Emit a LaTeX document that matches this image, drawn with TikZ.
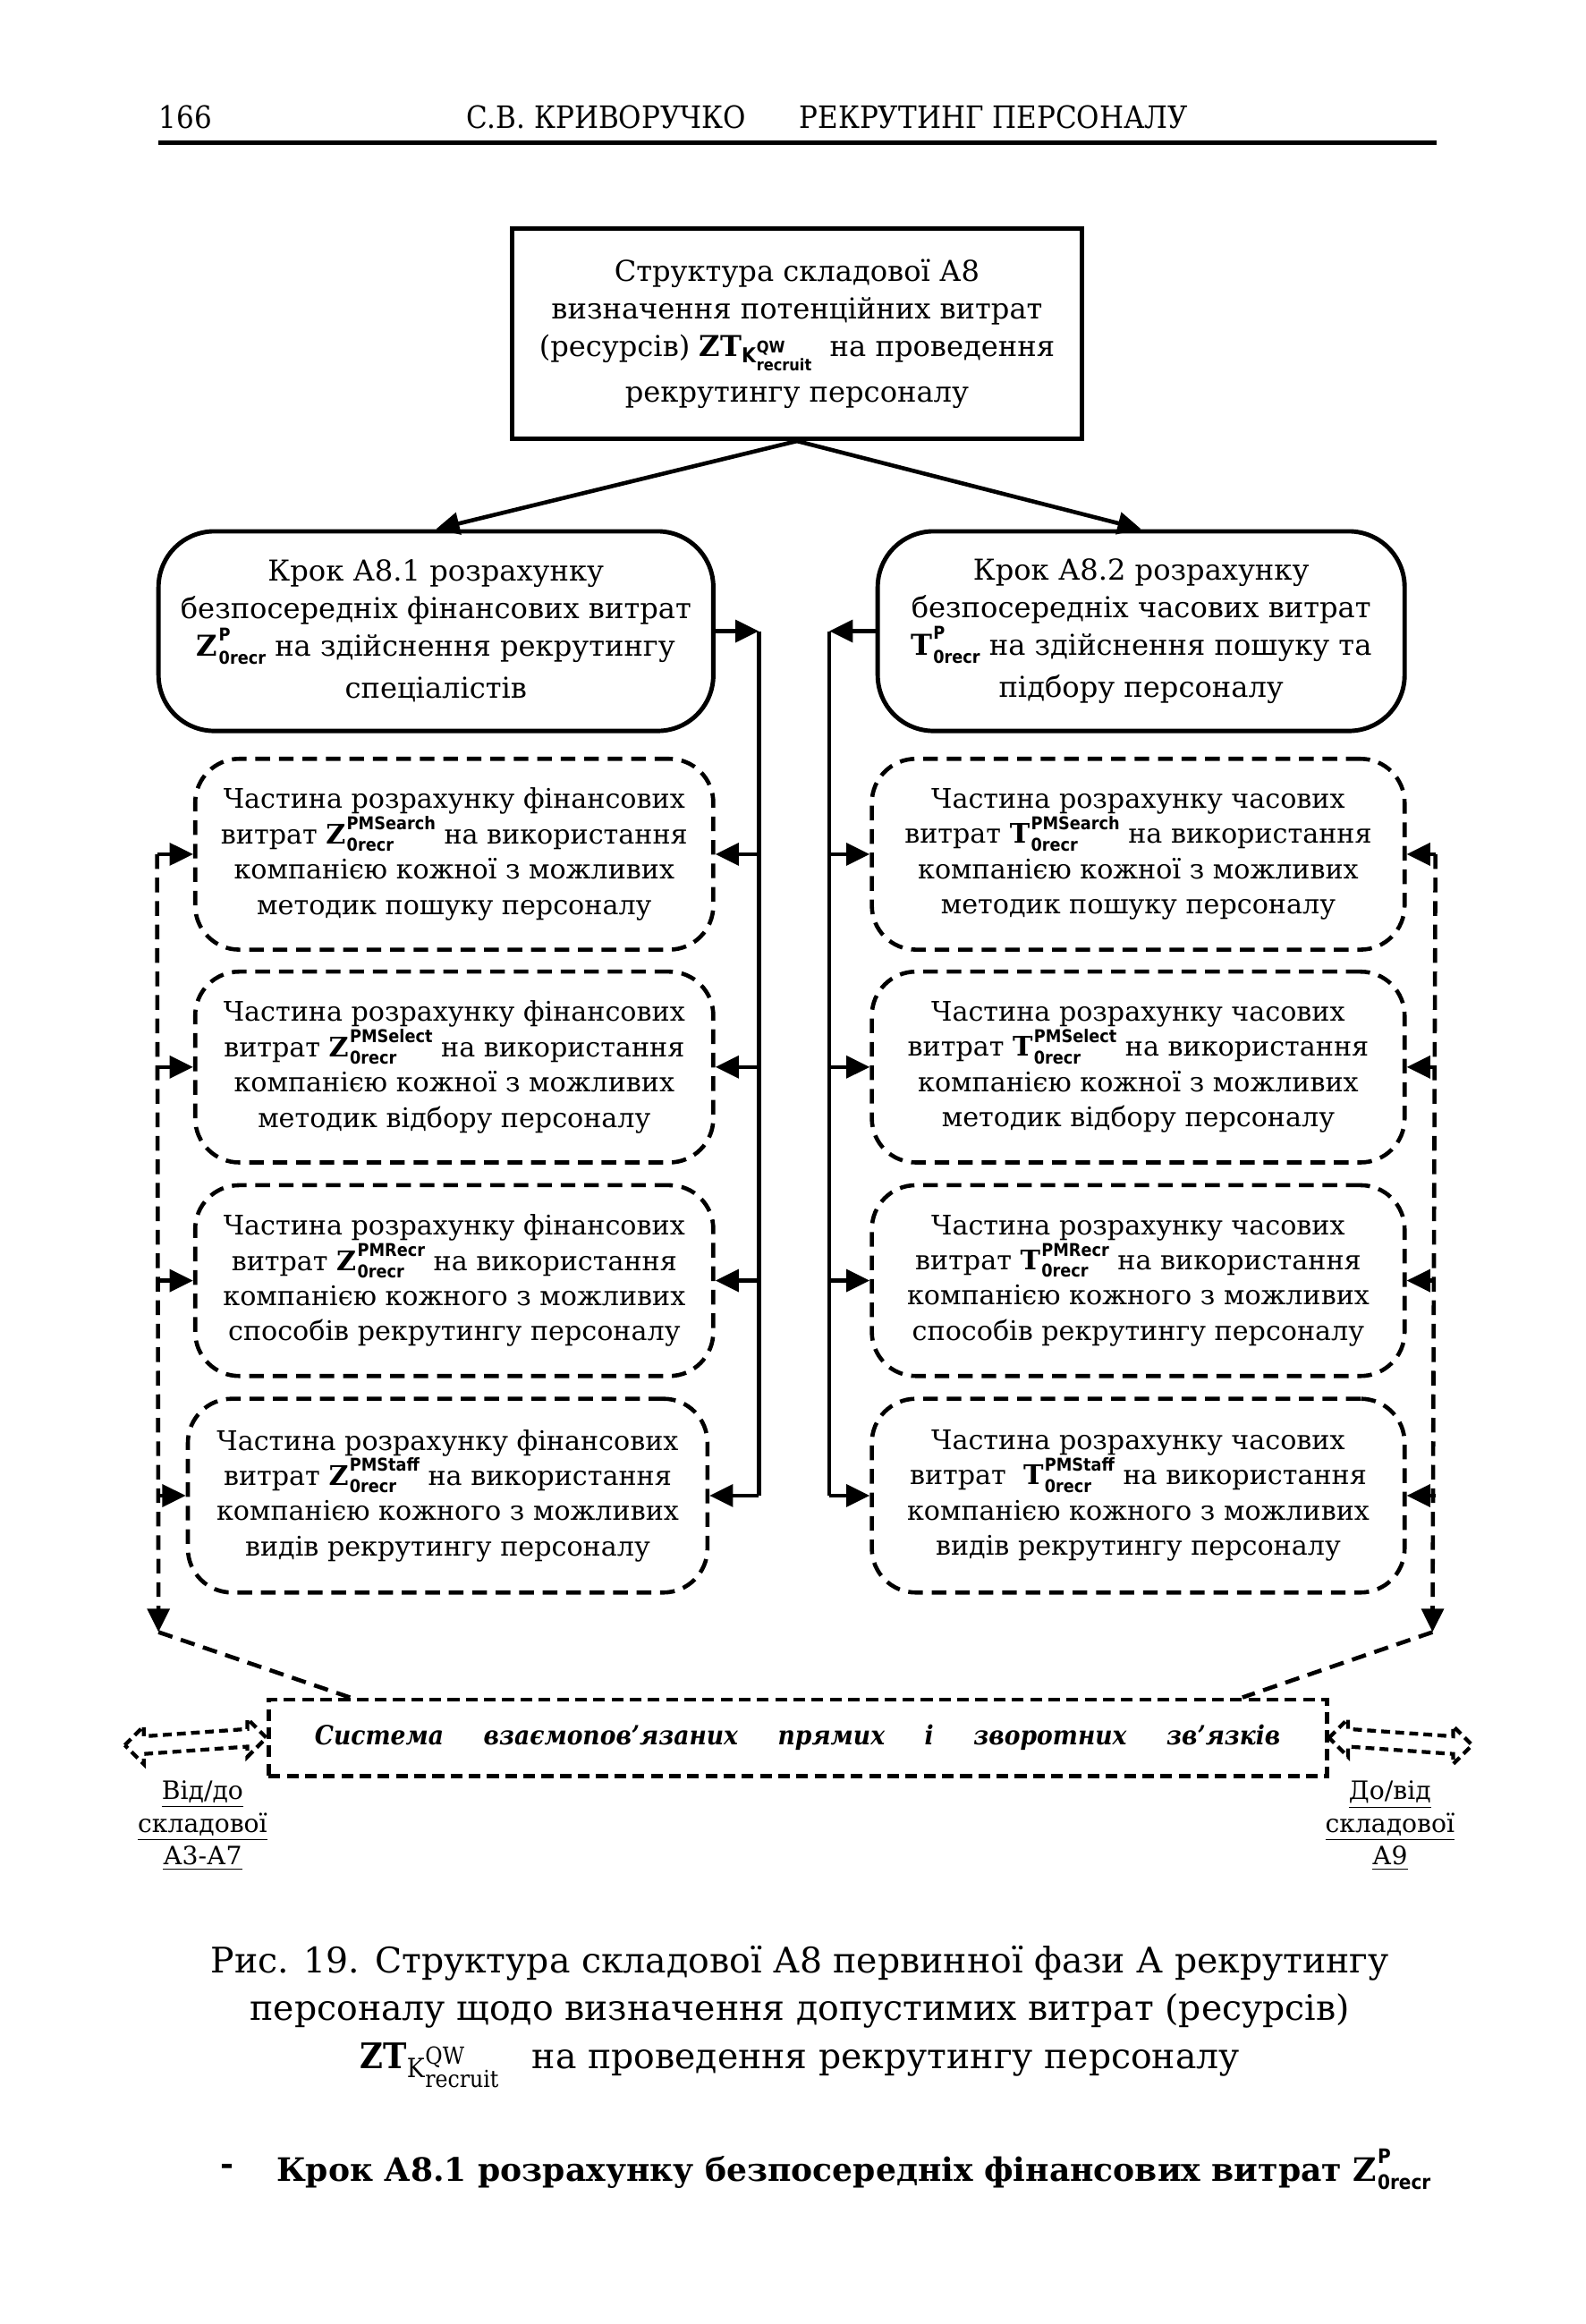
\documentclass[tikz,border=0pt]{standalone}
\usepackage{fontspec}
\setmainfont{DejaVu Serif}
\newfontfamily\condsans{DejaVu Sans Condensed}[BoldFont={DejaVu Sans Condensed Bold}]
\newfontfamily\condserif{DejaVu Serif Condensed}[BoldFont={DejaVu Serif Condensed Bold},ItalicFont={DejaVu Serif Condensed Italic},BoldItalicFont={DejaVu Serif Condensed Bold Italic}]
\usetikzlibrary{arrows.meta,calc}

% stacked super/subscript: #1 size, #2 sup, #3 sub, #4 raise, #5 lower, #6 font
\newcommand\stk[6]{\begingroup
  \setbox0\hbox{\fontsize{#1}{#1}\selectfont#6\relax#2}%
  \setbox2\hbox{\fontsize{#1}{#1}\selectfont#6\relax#3}%
  \ifdim\wd0>\wd2 \dimen0=\wd0 \else \dimen0=\wd2 \fi
  \hbox to \dimen0{\rlap{\raise #4\box0}\lower #5\box2\hfil}%
  \endgroup}
\newcommand\sym[3]{\mbox{\bfseries #1}\kern0.4pt\stk{6}{#2}{#3}{4.7pt}{2.5pt}{\condsans\bfseries}}
\newcommand\symP[1]{\mbox{\bfseries #1}\kern0.4pt\stk{6}{P}{0recr}{5.4pt}{2.8pt}{\condsans\bfseries}}
\newcommand\ZTK{\mbox{\bfseries ZT}\lower2.4pt\hbox{\fontsize{7}{7}\selectfont\condsans\bfseries K\kern0.2pt\stk{5.5}{QW}{recruit}{3.6pt}{2.6pt}{\condsans\bfseries}}}
\newcommand\ZTKcap{\mbox{\condserif\bfseries ZT}\lower3pt\hbox{\fontsize{9}{9}\selectfont\condserif K\kern0.2pt\stk{8}{QW}{recruit}{4.6pt}{3.4pt}{\condserif}}}

\tikzset{
  boxtext/.style={align=center, font=\fontsize{9.8}{12.8}\selectfont, inner sep=0pt},
  parttext/.style={align=center, font=\fontsize{9.2}{12}\selectfont, inner sep=0pt},
  topbox/.style={boxtext, draw, line width=1.5pt, minimum width=194pt, minimum height=71.5pt},
  stepbox/.style={boxtext, draw, line width=1.5pt, rounded corners=19pt, minimum height=68pt},
  partbox/.style={parttext, draw, line width=1.4pt, dash pattern=on 5pt off 3pt, rounded corners=15pt, minimum height=65pt},
  arr/.style={line width=1.4pt, -{Triangle[length=8pt,width=7.5pt]}},
  bus/.style={line width=1.4pt},
  dbus/.style={line width=1.4pt, dash pattern=on 5pt off 3pt},
  darr/.style={dbus, -{Triangle[length=8pt,width=7.5pt]}},
  sysbox/.style={draw, line width=1.5pt, dash pattern=on 4pt off 2.2pt, minimum width=360.5pt, minimum height=26pt, inner sep=0pt},
  hollow/.style={line width=1.3pt, dash pattern=on 3pt off 1.8pt},
  lbl/.style={align=center, font=\fontsize{8.6}{11.2}\selectfont, inner sep=0pt},
}

\begin{document}
\begin{tikzpicture}[x=0.5pt,y=-0.5pt]
\useasboundingbox (0,0) rectangle (1080,1583.4);

% header
\node[anchor=west, font=\condserif\fontsize{10.5}{12}\selectfont, inner sep=0pt] (pg) at (108,80) {166};
\node[font=\condserif\fontsize{10.5}{12}\selectfont, inner sep=0pt] (au) at (413,80) {С.В. КРИВОРУЧКО};
\node[font=\condserif\fontsize{10.5}{12}\selectfont, inner sep=0pt] (ti) at (677,80) {РЕКРУТИНГ ПЕРСОНАЛУ};
\coordinate (rl) at (108,97);
\coordinate (rr) at (979,97);
\draw[line width=1.5pt] (rl) -- (rr);

% top box
\node[topbox] (top) at (543,227.5) {Структура складової А8\\визначення потенційних витрат\\(ресурсів) \ZTK{}\ \ на проведення\\[3pt]рекрутингу персоналу};

% step boxes
\node[stepbox, minimum width=189pt] (ls) at (297,430) {Крок А8.1 розрахунку\\безпосередніх фінансових витрат\\\symP{Z} на здійснення рекрутингу\\[1.5pt]спеціалістів};
\node[stepbox, minimum width=179.5pt] (rs) at (777.5,430) {Крок А8.2 розрахунку\\безпосередніх часових витрат\\\symP{T} на здійснення пошуку та\\[1.5pt]підбору персоналу};

\draw[arr] (top.south) -- (ls.north);
\draw[arr] (top.south) -- (rs.north);

% left part boxes
\node[partbox, minimum width=176.5pt] (l1) at (309.5,582) {Частина розрахунку фінансових\\витрат \sym{Z}{PMSearch}{0recr} на використання\\компанією кожної з можливих\\методик пошуку персоналу};
\node[partbox, minimum width=176.5pt] (l2) at (309.5,727) {Частина розрахунку фінансових\\витрат \sym{Z}{PMSelect}{0recr} на використання\\компанією кожної з можливих\\методик відбору персоналу};
\node[partbox, minimum width=176.5pt] (l3) at (309.5,872.5) {Частина розрахунку фінансових\\витрат \sym{Z}{PMRecr}{0recr} на використання\\компанією кожного з можливих\\способів рекрутингу персоналу};
\node[partbox, minimum width=177pt, minimum height=66pt] (l4) at (305,1019) {Частина розрахунку фінансових\\витрат \sym{Z}{PMStaff}{0recr} на використання\\компанією кожного з можливих\\видів рекрутингу персоналу};

% right part boxes
\node[partbox, minimum width=181.5pt] (r1) at (775.5,582) {Частина розрахунку часових\\витрат \sym{T}{PMSearch}{0recr} на використання\\компанією кожної з можливих\\методик пошуку персоналу};
\node[partbox, minimum width=181.5pt] (r2) at (775.5,727) {Частина розрахунку часових\\витрат \sym{T}{PMSelect}{0recr} на використання\\компанією кожної з можливих\\методик відбору персоналу};
\node[partbox, minimum width=181.5pt] (r3) at (775.5,872.5) {Частина розрахунку часових\\витрат \sym{T}{PMRecr}{0recr} на використання\\компанією кожного з можливих\\способів рекрутингу персоналу};
\node[partbox, minimum width=181.5pt, minimum height=66pt] (r4) at (775.5,1019) {Частина розрахунку часових\\витрат \ \sym{T}{PMStaff}{0recr} на використання\\компанією кожного з можливих\\видів рекрутингу персоналу};

% solid buses
\coordinate (lb) at (517,0);
\coordinate (rb) at (565,0);
\draw[arr] (ls.east) -- (ls.east -| lb);
\draw[bus] (ls.east -| lb) -- (lb |- l4.east);
\foreach \n in {l1,l2,l3,l4} \draw[arr] (lb |- \n.east) -- (\n.east);
\draw[arr] (rs.west) -- (rs.west -| rb);
\draw[bus] (rs.west -| rb) -- (rb |- r4.west);
\foreach \n in {r1,r2,r3,r4} \draw[arr] (rb |- \n.west) -- (\n.west);

% system box
\node[sysbox] (sys) at (543.5,1184) {\condserif\fontsize{9}{11}\selectfont\bfseries\itshape\hbox to 329pt{Система\hfill взаємопов’язаних\hfill прямих\hfill і\hfill зворотних\hfill зв’язків}};

% dashed feedback buses
\coordinate (ldb) at (107,0);
\coordinate (rdb) at (978,0);
\coordinate (lend) at (108,1112);
\coordinate (rend) at (976,1112);
\coordinate (lsys) at ($(sys.north west)+(57,0)$);
\coordinate (rsys) at ($(sys.north east)+(-59,0)$);
\draw[darr] (ldb |- l1.west) -- (lend);
\foreach \n in {l1,l2,l3,l4} \draw[darr] (ldb |- \n.west) -- (\n.west);
\draw[dbus] (lend) -- (lsys);
\draw[darr] (rdb |- r1.east) -- (rend);
\foreach \n in {r1,r2,r3,r4} \draw[darr] (rdb |- \n.east) -- (\n.east);
\draw[dbus] (rend) -- (rsys);

% hollow double arrows
\coordinate (la) at (85,1189);
\coordinate (lz) at (sys.west);
\draw[hollow] (la) -- ++(13,-13) -- ++(0,7) -- ($(lz)+(-13,-6)$) -- ++(0,-7) -- (lz) -- ++(-13,13) -- ++(0,-7) -- ($(la)+(13,6)$) -- ++(0,7) -- cycle;
\coordinate (ra) at (sys.east);
\coordinate (rz) at (1003,1189);
\draw[hollow] (ra) -- ++(13,-13) -- ++(0,7) -- ($(rz)+(-13,-6)$) -- ++(0,-7) -- (rz) -- ++(-13,13) -- ++(0,-7) -- ($(ra)+(13,6)$) -- ++(0,7) -- cycle;

\node[lbl] (lt) at (138,1244) {\underline{Від/до}\\\underline{складової}\\\underline{А3-А7}};
\node[lbl] (rt) at (947,1244) {\underline{До/від}\\\underline{складової}\\\underline{А9}};

% caption
\node[align=center, font=\fontsize{12}{16.4}\selectfont, inner sep=0pt] (cap) at (545,1374) {Рис. 19. Структура складової А8 первинної фази А рекрутингу\\персоналу щодо визначення допустимих витрат (ресурсів)\\\ZTKcap{}\ \ \ на проведення рекрутингу персоналу};

% last line
\node[anchor=west, font=\fontsize{11}{14}\selectfont\bfseries, inner sep=0pt] (dash) at (150,1478) {-};
\node[anchor=west, font=\fontsize{11}{14}\selectfont\bfseries, inner sep=0pt] (step) at (188,1478) {Крок А8.1 розрахунку безпосередніх фінансових витрат \mbox{\bfseries Z}\kern0.3pt\stk{6.8}{P}{0recr}{5.9pt}{2.8pt}{\condsans\bfseries}};
\end{tikzpicture}
\end{document}
